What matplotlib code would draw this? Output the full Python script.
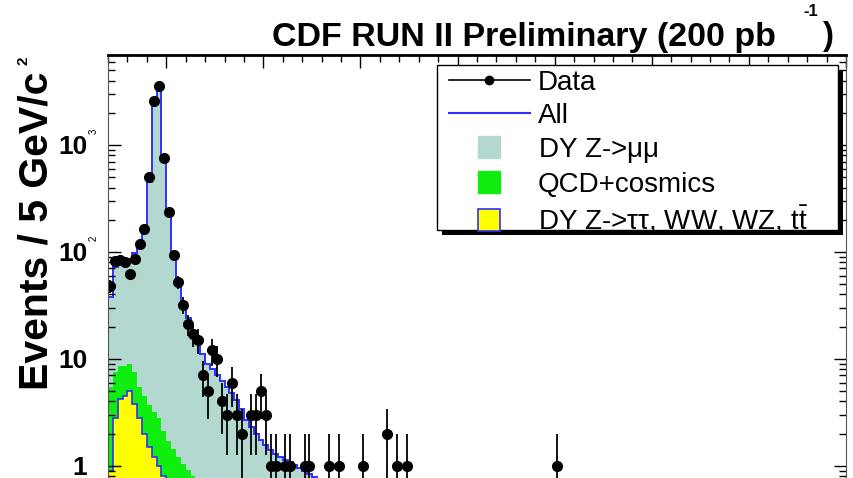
import numpy as np
import matplotlib
matplotlib.use("Agg")
import matplotlib.pyplot as plt
from matplotlib.lines import Line2D
from matplotlib.patches import Rectangle
from matplotlib.transforms import blended_transform_factory

plt.rcParams['font.family'] = ['Liberation Sans', 'DejaVu Sans']
plt.rcParams['mathtext.fontset'] = 'custom'
plt.rcParams['mathtext.rm'] = 'Liberation Sans'
plt.rcParams['mathtext.it'] = 'Liberation Sans:italic'

# dimuon invariant mass, 5 GeV bins starting at 40 GeV
bin_width = 5.0
mass_low = 40.0

# data: bin centres (GeV) and event counts
data_mass = [42.5, 47.5, 52.5, 57.5, 62.5, 67.5, 72.5, 77.5, 82.5, 87.5,
             92.5, 97.5, 102.5, 107.5, 112.5, 117.5, 122.5, 127.5, 132.5, 137.5,
             142.5, 147.5, 152.5, 157.5, 162.5, 167.5, 172.5, 177.5, 187.5, 192.5,
             197.5, 202.5, 207.5, 212.5, 222.5, 227.5, 242.5, 247.5, 267.5, 277.5,
             302.5, 327.5, 337.5, 347.5, 502.5]
data_events = [48, 82, 84, 80, 62, 86, 118, 164, 500, 2570,
               3560, 755, 236, 94, 52, 32, 21, 17, 15, 7,
               5, 12, 10, 4, 3, 6, 3, 2, 3, 3,
               5, 3, 1, 1, 1, 1, 1, 1, 1, 1,
               1, 2, 1, 1, 1]

# MC expectations per bin, first bin at 40-45 GeV
mc_all = [38, 72, 80, 84, 86, 98, 125, 165, 450, 2550,
          3250, 740, 228, 98, 52, 33, 24, 18, 14, 11,
          9.0, 8.0, 7.0, 6.2, 5.5, 4.8, 4.1, 3.4, 2.7, 2.3,
          2.0, 1.75, 1.55, 1.4, 1.28, 1.2, 1.14, 1.08, 1.02, 0.96,
          0.9, 0.84, 0.78, 0.72, 0.68, 0.64, 0.6, 0.56, 0.52, 0.5]
mc_qcd_top = [5.5, 7.5, 8.5, 8.5, 9.0, 7.5, 5.5, 4.5, 3.7, 3.2,
              2.8, 2.1, 1.7, 1.45, 1.2, 1.05, 0.92, 0.8, 0.7, 0.6]
mc_other = [0.9, 2.8, 4.2, 4.5, 5.0, 3.8, 2.8, 2.0, 1.5, 1.2,
            1.0, 0.8, 0.65, 0.5]

teal = '#b3d8d0'
green = '#10ee10'
blue = '#3030ff'

fig = plt.figure(figsize=(8.54, 4.78), dpi=100)
W, H = 854.0, 478.0
ax = fig.add_axes([108 / W, 1 - 498 / H, 738 / W, 443 / H])

def edges_for(vals):
    return mass_low + bin_width * np.arange(len(vals) + 1)

base = 1e-3
ax.stairs(mc_all, edges_for(mc_all), fill=True, baseline=base, color=teal, lw=0)
ax.stairs(mc_qcd_top, edges_for(mc_qcd_top), fill=True, baseline=base, color=green, lw=0)
ax.stairs(mc_other, edges_for(mc_other), fill=True, baseline=base, color='#ffff00', lw=0)
ax.stairs(mc_other, edges_for(mc_other), baseline=base, color=blue, lw=1.2)
ax.stairs(mc_all, edges_for(mc_all), baseline=base, color=blue, lw=1.4)

ev = np.array(data_events, dtype=float)
err = np.sqrt(ev)
lo = np.minimum(err, ev - 1e-4)
ax.errorbar(data_mass, ev, yerr=[lo, err], xerr=bin_width / 2, fmt='o', color='black',
            ms=7, elinewidth=1.3, capsize=0)

ax.set_yscale('log')
ax.set_xlim(40, 800)
ax.set_ylim(0.5, 6940)

ax.xaxis.set_major_locator(matplotlib.ticker.MultipleLocator(100))
ax.xaxis.set_minor_locator(matplotlib.ticker.MultipleLocator(20))
ax.tick_params(which='both', direction='in', top=True, right=True, labelbottom=False)
ax.tick_params(which='major', length=9, width=1.0)
ax.tick_params(which='minor', length=5, width=1.0)
ax.set_yticks([1, 10, 100, 1000])
ax.set_yticklabels(['1', '10', '10', '10'], fontsize=19, fontweight='bold')
ax.tick_params(axis='y', which='major', pad=15)
for s in ['left', 'right']:
    ax.spines[s].set_linewidth(0.8)
    ax.spines[s].set_color('#555555')
ax.spines['top'].set_linewidth(2.0)

# small exponents on the decade labels
tr = blended_transform_factory(fig.transFigure, ax.transData)
for dec, exp in [(100, '2'), (1000, '3')]:
    fig.text(94 / W, dec * 1.35, exp, transform=tr, fontsize=7, rotation=90,
             ha='center', va='center')

# axis title
fig.text(37 / W, 1 - 390 / H, 'Events / 5 GeV/c', rotation=90, fontsize=29.5,
         fontweight='bold', ha='center', va='bottom')
fig.text(24 / W, 1 - 61 / H, '2', rotation=90, fontsize=11, fontweight='bold',
         ha='center', va='center')

# header
fig.text(776 / W, 1 - 46 / H, 'CDF RUN II Preliminary (200 pb', fontsize=24.5,
         fontweight='bold', ha='right', va='baseline')
fig.text(811 / W, 1 - 11 / H, '-1', fontsize=12, fontweight='bold', ha='center', va='center')
fig.text(828 / W, 1 - 36 / H, ')', fontsize=24, fontweight='bold', ha='center', va='center')

# legend box with a solid drop shadow
fig.patches.append(Rectangle((442 / W, 1 - 235 / H), 401 / W, 165 / H,
                             transform=fig.transFigure, facecolor='black',
                             edgecolor='none', zorder=5))
fig.patches.append(Rectangle((437 / W, 1 - 230 / H), 401 / W, 165 / H,
                             transform=fig.transFigure, facecolor='white',
                             edgecolor='black', lw=1.0, zorder=6))

handles = [
    Line2D([], [], color='black', marker='o', ms=6, lw=1.2),
    Line2D([], [], color=blue, lw=1.5),
    Line2D([], [], ls='none', marker='s', ms=16, mfc=teal, mec=teal),
    Line2D([], [], ls='none', marker='s', ms=16, mfc=green, mec=green),
    Line2D([], [], ls='none', marker='s', ms=16, mfc='#ffff00', mec=blue, mew=1.2),
]
labels = ['Data', 'All', r'DY Z->$\mathrm{\mu\mu}$', 'QCD+cosmics',
          r'DY Z->$\mathrm{\tau\tau}$, WW, WZ, $\mathrm{t}\bar{\mathrm{t}}$']
leg = fig.legend(handles, labels, loc='upper left',
                 bbox_to_anchor=(449 / W, 1 - 70 / H), bbox_transform=fig.transFigure,
                 fontsize=20, frameon=False,
                 handlelength=2.9, handleheight=0.8, labelspacing=0.24,
                 borderpad=0, handletextpad=0.3, borderaxespad=0)
leg.set_zorder(7)

fig.savefig('out.png', dpi=100)
